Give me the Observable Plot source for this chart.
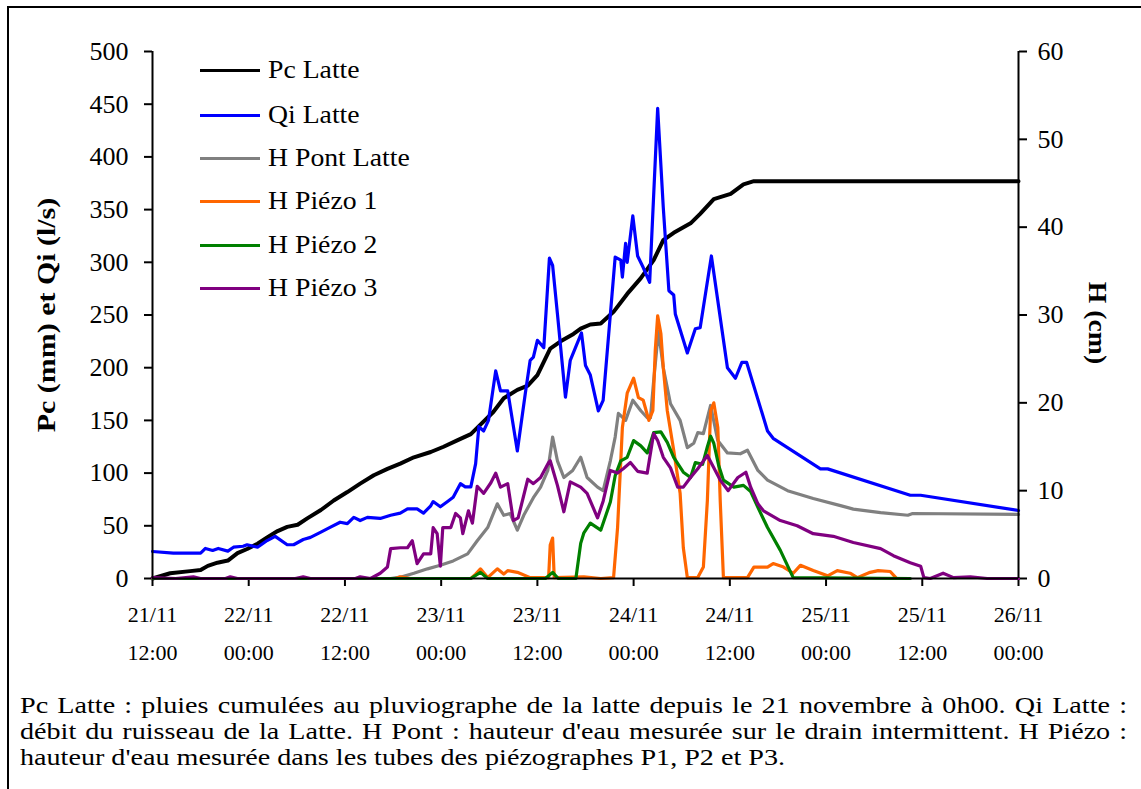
<!DOCTYPE html>
<html><head><meta charset="utf-8">
<script src="https://cdn.jsdelivr.net/npm/d3@7"></script>
<script src="https://cdn.jsdelivr.net/npm/@observablehq/plot@0.6"></script>
<style>
body{margin:0;background:#fff;color:#000;}
#frame{position:absolute;left:7px;top:6px;width:1300px;height:900px;border:2px solid #000;box-sizing:border-box;}
#chart{position:absolute;left:0;top:0;}
#legend{position:absolute;left:0;top:0;}
.lgline{position:absolute;height:3px;width:60px;}
.lgtext{position:absolute;font-size:25px;line-height:26px;white-space:nowrap;transform-origin:0 50%;}
.ytitle{position:absolute;font-weight:bold;font-size:26px;white-space:nowrap;line-height:1;}
.capline{position:absolute;left:20px;font-size:23px;line-height:25px;white-space:nowrap;transform-origin:0 50%;}
.capline.j{text-align:justify;text-align-last:justify;}
</style></head><body>
<div id="frame"></div>
<div id="chart"></div>
<div id="legend"></div>
<div id="caption"></div>
<script>
const FONT = "Liberation Serif";
const FONT_CSS = '"Liberation Serif"';
document.body.style.fontFamily = FONT_CSS;
// hours since 21/11 00:00
const xTickHours = [12, 24, 36, 48, 60, 72, 84, 96, 108, 120];
const xTickDates = ["21/11", "22/11", "22/11", "23/11", "23/11", "24/11", "24/11", "25/11", "25/11", "26/11"];
const xTickTimes = ["12:00", "00:00", "12:00", "00:00", "12:00", "00:00", "12:00", "00:00", "12:00", "00:00"];
const leftTicks = [0, 50, 100, 150, 200, 250, 300, 350, 400, 450, 500];
const rightTicks = [0, 10, 20, 30, 40, 50, 60];

const seriesNames = ["Pc Latte", "Qi Latte", "H Pont Latte", "H Piézo 1", "H Piézo 2", "H Piézo 3"];
const seriesColors = ["#000000", "#0000ff", "#808080", "#ff6600", "#008000", "#800080"];

// Pc Latte (mm, left axis)
const pcLatte = [[12,0],[14.2,5],[16.7,7],[18,8],[18.9,12],[20.1,15],[21.4,17],[22.6,24],[23.8,28],[25.1,33],[26.3,39],[27.6,45],[28.8,49],[30.1,51],[31.3,57],[33,65],[34.6,74],[36.3,82],[37.9,90],[39.6,98],[41.3,104],[42.9,109],[44.6,115],[46.7,120],[48.3,125],[50,131],[51.7,137],[52.9,146],[54.5,158],[55.8,171],[57.5,179],[58.8,183],[60,193],[61.6,218],[62.9,225],[64.5,232],[65.4,237],[66.6,241],[67.9,242],[69.5,253],[71.2,270],[72.9,285],[74.5,302],[75.7,321],[77,328],[79.1,337],[80.3,346],[82,360],[84.1,365],[85.7,374],[87,377],[120,377]];
// Qi Latte (l/s, left axis)
const qiLatte = [[12,25.6],[14.6,24],[18,24],[18.6,28.5],[19.5,26.6],[20.2,28.5],[21.4,26],[22.1,29.7],[23.3,30.6],[23.8,32],[25.1,29.7],[26.3,36],[27.3,40],[28.8,32],[29.6,32],[30.8,37],[31.7,39],[33,44],[34.2,48.7],[35.4,53.4],[36.3,52],[37.1,58],[37.9,55],[38.8,58],[40.4,57],[41.7,60],[42.9,62],[43.8,66],[45,66],[45.8,62],[46.7,69],[47,73],[47.9,68],[48.8,73],[49.5,77],[50.4,90],[51,87],[51.7,87],[52.3,109],[52.7,144],[53.3,140],[53.9,150],[54.8,197],[55.4,178],[56.3,178],[57.5,121],[58.5,176],[59.1,207],[59.5,210],[60,226],[60.8,219],[61.5,304],[61.9,297],[62.5,251],[63.5,172],[64.1,207],[65.5,233],[66,202],[66.6,193],[67.6,159],[68.2,169],[69.7,305],[70.4,302],[70.6,286],[71,318],[71.2,300],[71.9,344],[72.5,306],[73.2,295],[74,281],[75,446],[75.7,352],[76.4,273],[77,269],[77.2,251],[78.7,214],[79.7,237],[80.3,238],[81.7,306],[83.7,200],[84.7,190],[85.5,205],[86.1,205],[88.7,140],[89.4,133],[95.3,104],[96.2,104],[106.5,79],[107.8,79],[120,64.5]];
// H Pont Latte (cm, right axis)
const hPont = [[12,0],[41.7,0],[42.9,0.15],[44.6,0.6],[46.3,1.1],[47.9,1.5],[49.5,2],[51.3,2.8],[52.5,4.3],[53.8,5.8],[55,8.5],[55.8,7.2],[56.6,7.4],[57.5,5.5],[58.3,7.2],[59.5,9.2],[60.4,10.4],[61.3,12.3],[61.9,16.1],[62.5,13.4],[63.3,11.5],[64.4,12.3],[65.4,13.8],[66.2,11.5],[67.5,10.4],[68.2,10],[69.1,13.4],[69.7,16.1],[70.1,18.8],[71,18],[71.9,20.3],[72.9,19.1],[73.7,18.3],[74.1,18.3],[74.5,22.5],[75.1,28.2],[75.7,24],[76.6,19.9],[77.8,18],[78.7,14.9],[79.5,15.4],[80,16.6],[80.7,16.5],[81.6,19.7],[82.5,15.7],[83.7,14.3],[85.3,14.2],[86.2,14.6],[87.5,12.3],[88.7,11.2],[91.2,10],[94.4,9.1],[97.8,8.3],[99.4,7.9],[102.8,7.5],[106.2,7.2],[106.8,7.4],[120,7.3]];
// H Piézo 1 (cm)
const hP1 = [[12,0],[42.3,0],[42.9,0.2],[44.2,0],[51.7,0],[52.3,0.5],[52.9,1.1],[53.8,0.1],[55,1.1],[55.8,0.5],[56.3,0.9],[57.5,0.7],[59.1,0.1],[61.4,0.1],[61.6,3.8],[61.9,4.6],[62.1,0.1],[65.8,0.2],[67.9,0],[69.5,0.1],[70,5.8],[70.6,17.2],[71.2,21.1],[72,22.8],[72.6,20.6],[73.2,20.3],[73.9,18],[74.4,19.1],[74.7,26],[75,29.9],[75.4,27.9],[75.7,24],[76.2,19.1],[77,14.6],[77.8,9.7],[78.2,3.5],[78.7,0.1],[80,0.1],[80.7,1.3],[81.2,8.9],[81.6,19.1],[82,20],[82.5,17.2],[82.8,8.9],[83.2,0.1],[86.2,0.1],[87,1.3],[88.7,1.3],[89.4,1.7],[90.7,1.3],[91.9,0.6],[92.8,1.5],[94.4,0.9],[96.2,0.3],[97.4,0.9],[99,0.6],[99.9,0.1],[101.5,0.7],[102.5,0.9],[104,0.8],[104.7,0.1]];
// H Piézo 2 (cm)
const hP2 = [[12,0],[51.7,0],[52.9,0.7],[53.8,0],[61,0],[61.9,0.7],[62.6,0],[64.8,0],[65.4,4],[65.8,5.2],[66.6,6.3],[67.9,5.5],[69.1,8.7],[69.7,11.7],[70.4,13.4],[71.2,13.8],[72,15.7],[72.9,15.1],[73.7,14.3],[74.5,16.6],[75.4,16.7],[76.2,15.5],[77,13.8],[78.2,12.1],[79.1,11.5],[79.7,13.2],[80.6,13],[81.2,15],[81.6,16.2],[82,15.4],[82.6,12.9],[83.2,11.2],[84.5,10.4],[85.7,10.6],[86.6,9.9],[87.5,8.1],[88.7,5.8],[90.3,3.2],[91.9,0.1],[106.5,0]];
// H Piézo 3 (cm)
const hP3 = [[12,0.1],[14.9,0],[17.1,0.2],[18,0],[21.1,0],[21.7,0.2],[22.6,0],[29.8,0],[30.8,0.2],[31.7,0],[37.3,0],[37.9,0.2],[39.2,0],[40.4,0.6],[41.3,1.3],[41.7,3.4],[42.9,3.5],[43.8,3.5],[44.4,4.3],[45,1.7],[45.8,2.8],[46.7,2.8],[47,5.8],[47.5,5.1],[47.9,1.4],[48.2,5.8],[49.2,5.8],[49.8,7.4],[50.4,6.9],[50.7,5.1],[51.4,7.7],[51.9,6.3],[52.5,10.5],[53.3,9.7],[54.2,10.9],[54.8,12],[55.4,10.4],[56.3,10.8],[57,6.6],[57.6,6.9],[58.8,11.3],[59.5,10.8],[60.4,11.5],[61.4,13.2],[61.6,13.4],[62.5,10.6],[63.3,7.6],[64.1,11],[65.4,10.4],[66.2,9.7],[67.5,6.9],[68.2,8.8],[69.1,12.3],[70,12],[70.7,12.5],[71.6,13.2],[72.5,12.2],[73.7,12],[74.5,16.5],[75,15.7],[75.7,13.8],[76.6,12.6],[77.5,10.4],[78.2,10.4],[79.1,11.5],[80,12.5],[81.2,14],[82,12.6],[82.8,11.2],[83.8,10],[85,11.5],[86,12.1],[86.6,10.4],[87.5,8.5],[88.2,7.7],[90.3,6.6],[92.4,6],[94.4,5.1],[96.9,4.8],[99.4,4.1],[102.8,3.4],[104.4,2.6],[106.5,1.8],[107.8,1.4],[108.2,0.1],[109,0],[110.6,0.6],[111.9,0.1],[114,0.2],[116.1,0],[120,0]];

const K = 500 / 60; // cm -> left-axis units
const leftSeries = [pcLatte, qiLatte];
const rightSeries = [hPont, hP1, hP2, hP3];

const lineMarks = [];
leftSeries.forEach((s, i) => {
  lineMarks.push(Plot.line(s, {x: d => d[0], y: d => d[1], stroke: seriesColors[i], strokeWidth: i === 0 ? 4 : 3.2, strokeLinejoin: "round"}));
});
rightSeries.forEach((s, j) => {
  lineMarks.push(Plot.line(s, {x: d => d[0], y: d => d[1] * K, stroke: seriesColors[j + 2], strokeWidth: 3.2, strokeLinejoin: "round"}));
});

const chart = Plot.plot({
  width: 1141, height: 680,
  marginLeft: 152, marginRight: 123, marginTop: 51, marginBottom: 102,
  style: {fontFamily: FONT, fontSize: "22px", color: "#000", background: "transparent", overflow: "visible"},
  x: {domain: [12, 120]},
  y: {domain: [0, 500]},
  marks: [
    Plot.axisY({anchor: "left", ticks: leftTicks, tickSize: 8, tickPadding: 16, strokeWidth: 2, fontSize: 26, label: null, fontFamily: FONT, tickFormat: d => String(d)}),
    Plot.axisY({anchor: "right", ticks: rightTicks.map(c => c * K), tickSize: 8, tickPadding: 11, strokeWidth: 2, fontSize: 26, label: null, fontFamily: FONT, tickFormat: v => String(Math.round(v / K))}),
    Plot.axisX({anchor: "bottom", ticks: xTickHours, tickSize: 8, tickPadding: 20, strokeWidth: 2, fontSize: 22, label: null, fontFamily: FONT, tickFormat: h => xTickDates[xTickHours.indexOf(h)]}),
    Plot.axisX({anchor: "bottom", ticks: xTickHours, tickSize: 0, tickPadding: 66, fontSize: 22, label: null, fontFamily: FONT, tickFormat: h => xTickTimes[xTickHours.indexOf(h)]}),
    ...lineMarks,
    Plot.ruleX([12, 120], {stroke: "#000", strokeWidth: 2}),
    Plot.ruleY([0], {stroke: "#000", strokeWidth: 2})
  ]
});
chart.querySelectorAll("text, g").forEach(t => { t.setAttribute("font-family", FONT); t.style.fontFamily = FONT_CSS; });
document.getElementById("chart").appendChild(chart);

function mk(cls, text) {
  const el = document.createElement("div");
  el.className = cls; el.textContent = text;
  el.style.fontFamily = FONT_CSS;
  return el;
}
// axis titles (stretched slightly along the text direction like the original)
function placeTitle(text, cx, cy, deg, targetLen) {
  const el = mk("ytitle", text);
  document.body.appendChild(el);
  const w = el.offsetWidth, h = el.offsetHeight;
  const s = targetLen / w;
  el.style.left = (cx - w / 2) + "px";
  el.style.top = (cy - h / 2) + "px";
  el.style.transform = `rotate(${deg}deg) scaleX(${s})`;
}
placeTitle("Pc (mm) et Qi (l/s)", 47, 315, -90, 235);
placeTitle("H (cm)", 1096, 323, 90, 82);

// legend
const lg = document.getElementById("legend");
const legendRows = [70, 115, 158, 201, 245, 288];
const legendTexts = [];
seriesNames.forEach((name, i) => {
  const ln = document.createElement("div");
  ln.className = "lgline";
  ln.style.left = "200px"; ln.style.top = (legendRows[i] - 1.5) + "px";
  ln.style.background = seriesColors[i];
  lg.appendChild(ln);
  const tx = mk("lgtext", name);
  tx.style.left = "268px"; tx.style.top = (legendRows[i] - 13) + "px";
  lg.appendChild(tx);
  legendTexts.push(tx);
});
const lgScale = 142 / legendTexts[2].offsetWidth;
legendTexts.forEach(t => t.style.transform = `scaleX(${lgScale})`);

// caption
const captionLines = [
  "Pc Latte : pluies cumulées au pluviographe de la latte depuis le 21 novembre à 0h00. Qi Latte :",
  "débit du ruisseau de la Latte. H Pont : hauteur d'eau mesurée sur le drain intermittent. H Piézo :",
  "hauteur d'eau mesurée dans les tubes des piézographes P1, P2 et P3."
];
const captionCenters = [705, 731, 757];
const cap = document.getElementById("caption");
const natural = captionLines.map(t => {
  const s = mk("capline", t);
  s.style.visibility = "hidden";
  cap.appendChild(s);
  const w = s.getBoundingClientRect().width;
  s.remove();
  return w;
});
let capScale = 765 / natural[2];
const maxNat = Math.max(natural[0], natural[1]);
if (maxNat * capScale > 1107) capScale = 1107 / maxNat;
captionLines.forEach((t, i) => {
  const d = mk(i < 2 ? "capline j" : "capline", t);
  d.style.top = (captionCenters[i] - 12.5) + "px";
  if (i < 2) d.style.width = (1107 / capScale) + "px";
  d.style.transform = `scaleX(${capScale})`;
  cap.appendChild(d);
});
</script>
</body></html>
